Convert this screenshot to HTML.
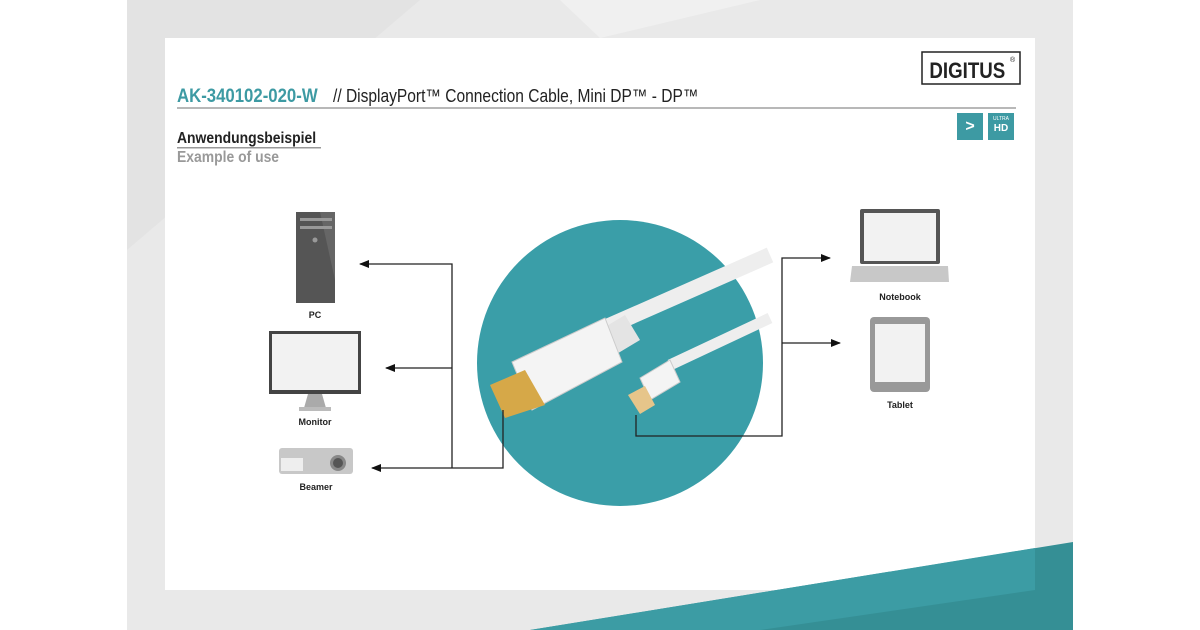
<!DOCTYPE html>
<html><head><meta charset="utf-8"><style>
html,body{margin:0;padding:0;background:#fff;}
svg{display:block;font-family:"Liberation Sans",Arial,sans-serif;}
</style></head><body>
<svg width="1200" height="630" viewBox="0 0 1200 630" xmlns="http://www.w3.org/2000/svg">
<defs>
<marker id="ar" markerWidth="10" markerHeight="8" refX="9" refY="4" orient="auto" markerUnits="userSpaceOnUse"><path d="M0,0 L10,4 L0,8 Z" fill="#111"/></marker>
</defs>
<rect x="0" y="0" width="1200" height="630" fill="#fff"/>
<rect x="127" y="0" width="946" height="630" fill="#e9e9e9"/>
<polygon points="127,0 420,0 127,250" fill="#e3e3e3"/>
<polygon points="560,0 760,0 600,38" fill="#f0f0f0"/>
<rect x="165" y="38" width="870" height="552" fill="#fff"/>
<polygon points="530,630 1073,542 1073,630" fill="#358f95"/>
<polygon points="530,630 1035,548 1035,590 760,630" fill="#3c9ca4"/>
<!-- header -->
<rect x="922" y="52" width="98" height="32" fill="#fff" stroke="#222" stroke-width="1.5"/>
<text x="968" y="78" font-size="22" font-weight="bold" text-anchor="middle" fill="#222" transform="scale(0.85,1) translate(170,0)">DIGITUS</text>
<text x="1010" y="62" font-size="7" fill="#222">®</text>
<text x="0" y="102" font-size="19.5" font-weight="bold" fill="#3d9aa3" transform="translate(177,0) scale(0.86,1)">AK-340102-020-W</text>
<text x="0" y="102" font-size="18.3" fill="#222" transform="translate(333,0) scale(0.85,1)">//  DisplayPort™ Connection Cable, Mini DP™ - DP™</text>
<rect x="177" y="107" width="839" height="2" fill="#b8b8b8"/>
<rect x="957" y="113" width="26" height="27" fill="#3d9aa3"/>
<text x="970" y="131" font-size="16" font-weight="bold" fill="#fff" text-anchor="middle">&gt;</text>
<rect x="988" y="113" width="26" height="27" fill="#3d9aa3"/>
<text x="1001" y="120" font-size="5" fill="#fff" text-anchor="middle">ULTRA</text>
<text x="1001" y="131" font-size="10" font-weight="bold" fill="#fff" text-anchor="middle">HD</text>
<text x="0" y="143" font-size="16" font-weight="bold" fill="#222" transform="translate(177,0) scale(0.87,1)">Anwendungsbeispiel</text>
<rect x="177" y="147" width="144" height="1.5" fill="#999"/>
<text x="0" y="162" font-size="16" font-weight="bold" fill="#999" transform="translate(177,0) scale(0.87,1)">Example of use</text>
<!-- circle -->
<circle cx="620" cy="363" r="143" fill="#3a9ea8"/>
<!-- cable -->
<path d="M600,330 L770,255" stroke="#eee" stroke-width="16" fill="none"/>
<path d="M670,365 L770,318" stroke="#eee" stroke-width="11" fill="none"/>
<polygon points="600,330 625,315 640,340 615,355" fill="#e4e4e4"/>
<polygon points="512,362 605,318 622,362 532,410" fill="#f4f4f4" stroke="#ccc"/>
<polygon points="490,385 525,370 545,405 505,418" fill="#d6a848"/>
<polygon points="640,378 670,360 680,382 650,400" fill="#f4f4f4" stroke="#ccc"/>
<polygon points="628,395 645,386 655,405 640,414" fill="#e6c58a"/>
<!-- connectors -->
<g stroke="#222" stroke-width="1.3" fill="none">
<path d="M503,410 L503,468 L372,468" marker-end="url(#ar)"/>
<path d="M452,468 L452,264 L360,264" marker-end="url(#ar)"/>
<path d="M452,368 L386,368" marker-end="url(#ar)"/>
<path d="M636,415 L636,436 L782,436 L782,258 L830,258" marker-end="url(#ar)"/>
<path d="M782,343 L840,343" marker-end="url(#ar)"/>
</g>
<!-- PC -->
<rect x="296" y="212" width="39" height="91" fill="#555"/>
<polygon points="320,212 335,212 335,280" fill="#666"/>
<rect x="300" y="218" width="32" height="3" fill="#999"/>
<rect x="300" y="226" width="32" height="3" fill="#999"/>
<circle cx="315" cy="240" r="2.5" fill="#999"/>
<text x="315" y="318" font-size="9" font-weight="bold" text-anchor="middle" fill="#222">PC</text>
<!-- Monitor -->
<rect x="269" y="331" width="92" height="63" fill="#444"/>
<rect x="272" y="334" width="86" height="56" fill="#f2f2f2"/>
<polygon points="308,394 322,394 326,408 304,408" fill="#aaa"/>
<rect x="299" y="407" width="32" height="4" fill="#bbb"/>
<text x="315" y="425" font-size="9" font-weight="bold" text-anchor="middle" fill="#222">Monitor</text>
<!-- Beamer -->
<rect x="279" y="448" width="74" height="26" rx="3" fill="#c8c8c8"/>
<rect x="281" y="458" width="22" height="13" fill="#eee"/>
<circle cx="338" cy="463" r="8" fill="#888"/>
<circle cx="338" cy="463" r="5" fill="#555"/>
<text x="316" y="490" font-size="9" font-weight="bold" text-anchor="middle" fill="#222">Beamer</text>
<!-- Notebook -->
<rect x="860" y="209" width="80" height="55" rx="2" fill="#555"/>
<rect x="864" y="213" width="72" height="48" fill="#f2f2f2"/>
<polygon points="852,266 948,266 949,282 850,282" fill="#c8c8c8"/>
<text x="900" y="300" font-size="9" font-weight="bold" text-anchor="middle" fill="#222">Notebook</text>
<!-- Tablet -->
<rect x="870" y="317" width="60" height="75" rx="4" fill="#999"/>
<rect x="875" y="324" width="50" height="58" fill="#f2f2f2"/>
<text x="900" y="408" font-size="9" font-weight="bold" text-anchor="middle" fill="#222">Tablet</text>
</svg>
</body></html>
